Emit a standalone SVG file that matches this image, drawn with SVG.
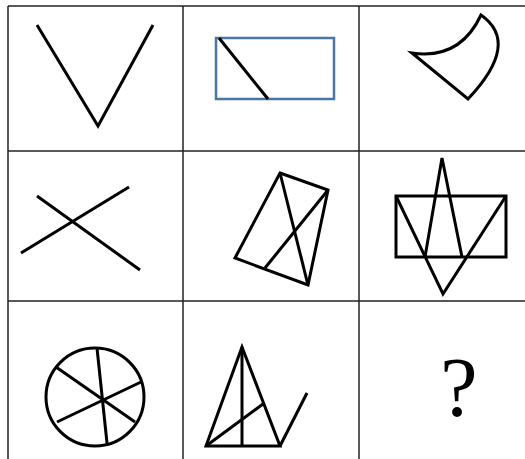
<svg xmlns="http://www.w3.org/2000/svg" width="525" height="459" viewBox="0 0 525 459">
<style>
.grid{stroke:#222;stroke-width:1.5;fill:none}
.f{stroke:#000;stroke-width:3;fill:none;stroke-linejoin:miter;stroke-linecap:butt}
.b{stroke:#4a76a6;stroke-width:2.5;fill:none}
.q{font-family:"Liberation Serif","Times New Roman",serif;font-size:84px;fill:#000}
</style>
<rect width="525" height="459" fill="#fff"/>
<g id="grid" class="grid">
<line x1="8" y1="6" x2="525" y2="6"/>
<line x1="8" y1="151" x2="525" y2="151"/>
<line x1="8" y1="301" x2="525" y2="301"/>
<line x1="8" y1="6" x2="8" y2="459"/>
<line x1="183" y1="6" x2="183" y2="459"/>
<line x1="359" y1="6" x2="359" y2="459"/>
</g>
<g id="cell1"><polyline class="f" points="37,25 98,126 153,25"/></g>
<g id="cell2"><rect class="b" x="216" y="38" width="118" height="61"/><line class="f" x1="219" y1="38" x2="268" y2="99"/></g>
<g id="cell3"><path class="f" d="M412,53 L468,99 Q521,43 481,15 Q460,60 412,53 Z"/></g>
<g id="cell4"><line class="f" x1="37" y1="196" x2="140" y2="270"/><line class="f" x1="21" y1="253" x2="129" y2="187"/></g>
<g id="cell5"><polygon class="f" points="280,173 328,190 308,285 235,258"/><line class="f" x1="280" y1="173" x2="308" y2="285"/><line class="f" x1="328" y1="190" x2="265" y2="268"/></g>
<g id="cell6"><rect class="f" x="396" y="196" width="110" height="61"/><polyline class="f" points="425,257 442,158 462,257"/><polyline class="f" points="396,196 443,294 506,196"/></g>
<g id="cell7"><circle class="f" cx="95" cy="397" r="49"/><line class="f" x1="97" y1="348" x2="107" y2="443"/><line class="f" x1="56" y1="367" x2="135" y2="422"/><line class="f" x1="57" y1="422" x2="141" y2="382"/></g>
<g id="cell8"><polygon class="f" points="242,347 206,446 280,446"/><line class="f" x1="242" y1="347" x2="242" y2="446" stroke-width="3.5"/><line class="f" x1="206" y1="446" x2="263" y2="404"/><line class="f" x1="280" y1="446" x2="307" y2="393"/></g>
<g id="cell9"><text class="q" x="459" y="416" text-anchor="middle">?</text></g>
</svg>
